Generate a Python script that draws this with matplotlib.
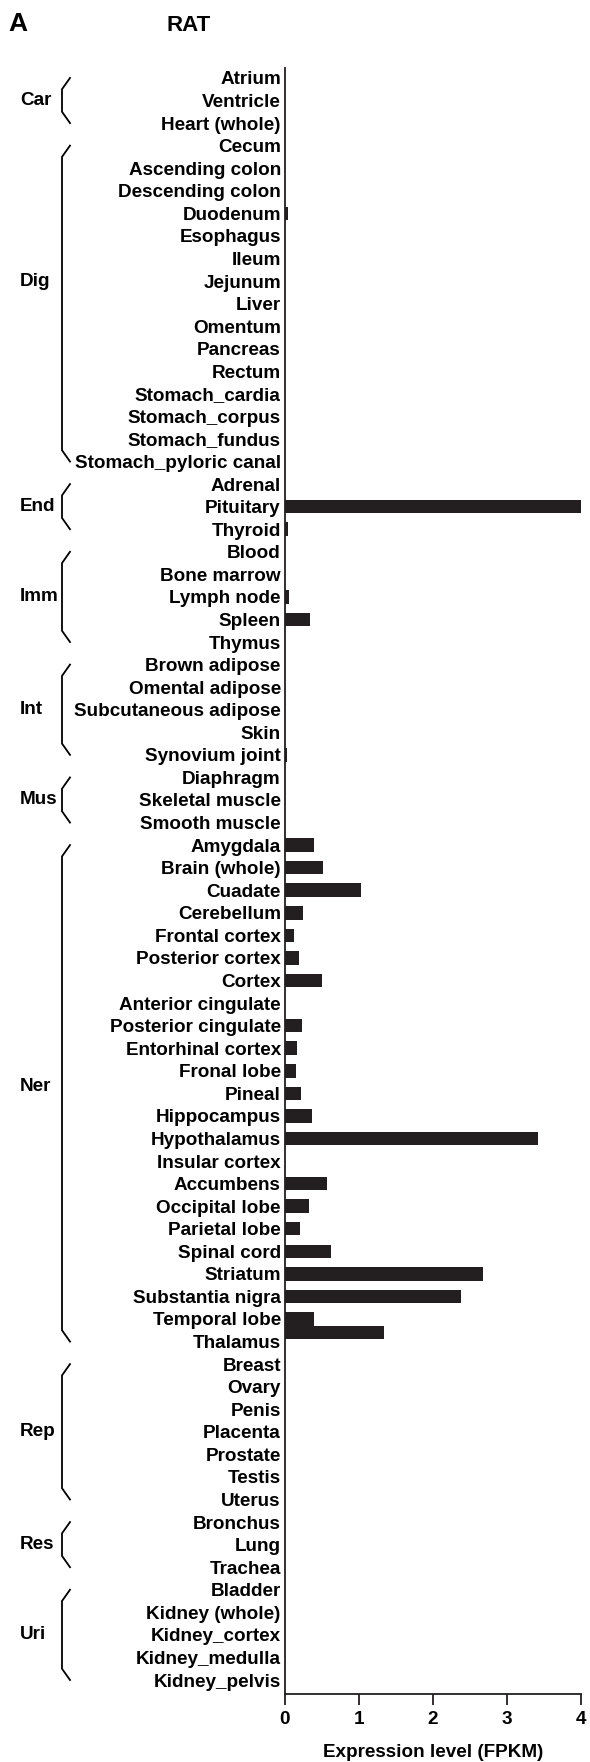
import matplotlib
matplotlib.use("Agg")
import matplotlib.pyplot as plt
from matplotlib.transforms import blended_transform_factory

plt.rcParams['font.family'] = ['Liberation Sans', 'DejaVu Sans']
plt.rcParams['font.weight'] = 'bold'

# Tissue groups, in display order (top to bottom)
groups = ["Car", "Dig", "End", "Imm", "Int", "Mus", "Ner", "Rep", "Res", "Uri"]
group_sizes = [3, 15, 3, 5, 5, 3, 23, 7, 3, 5]

tissues = [
    "Atrium", "Ventricle", "Heart (whole)",
    "Cecum", "Ascending colon", "Descending colon", "Duodenum", "Esophagus",
    "Ileum", "Jejunum", "Liver", "Omentum", "Pancreas", "Rectum",
    "Stomach_cardia", "Stomach_corpus", "Stomach_fundus", "Stomach_pyloric canal",
    "Adrenal", "Pituitary", "Thyroid",
    "Blood", "Bone marrow", "Lymph node", "Spleen", "Thymus",
    "Brown adipose", "Omental adipose", "Subcutaneous adipose", "Skin", "Synovium joint",
    "Diaphragm", "Skeletal muscle", "Smooth muscle",
    "Amygdala", "Brain (whole)", "Cuadate", "Cerebellum", "Frontal cortex",
    "Posterior cortex", "Cortex", "Anterior cingulate", "Posterior cingulate",
    "Entorhinal cortex", "Fronal lobe", "Pineal", "Hippocampus", "Hypothalamus",
    "Insular cortex", "Accumbens", "Occipital lobe", "Parietal lobe", "Spinal cord",
    "Striatum", "Substantia nigra", "Temporal lobe", "Thalamus",
    "Breast", "Ovary", "Penis", "Placenta", "Prostate", "Testis", "Uterus",
    "Bronchus", "Lung", "Trachea",
    "Bladder", "Kidney (whole)", "Kidney_cortex", "Kidney_medulla", "Kidney_pelvis",
]

# Expression level (FPKM) per tissue
fpkm = [
    0.0, 0.0, 0.0,
    0.0, 0.0, 0.0, 0.04, 0.0,
    0.0, 0.0, 0.0, 0.0, 0.0, 0.0,
    0.0, 0.0, 0.0, 0.0,
    0.0, 4.0, 0.04,
    0.0, 0.0, 0.05, 0.34, 0.0,
    0.0, 0.0, 0.0, 0.0, 0.03,
    0.0, 0.0, 0.0,
    0.39, 0.51, 1.03, 0.24, 0.12,
    0.19, 0.50, 0.0, 0.23,
    0.16, 0.15, 0.22, 0.37, 3.42,
    0.0, 0.57, 0.33, 0.20, 0.62,
    2.68, 2.38, 0.39, 1.34,
    0.0, 0.0, 0.0, 0.0, 0.0, 0.0, 0.0,
    0.0, 0.0, 0.0,
    0.0, 0.0, 0.0, 0.0, 0.0,
]

# Row (in tissue units) where each group name sits
group_label_rows = [1, 9, 19, 23, 28, 32, 44.7, 60, 65, 69]

x_ticks = [0, 1, 2, 3, 4]

W, H = 590, 1762
FS = 13.6
fig = plt.figure(figsize=(W / 100, H / 100), dpi=100)
ax = fig.add_axes([285 / W, 1 - 1694 / H, (581 - 285) / W, (1694 - 68) / H])

bar_color = "#231f20"
bar_height = 0.6
rows = list(range(len(tissues)))
# the thalamus bar sits tucked directly under the temporal-lobe bar
bar_shift = {"Thalamus": -0.41}
bar_rows = [r + bar_shift.get(t, 0.0) for r, t in zip(rows, tissues)]
ax.barh(bar_rows, fpkm, height=bar_height, color=bar_color, edgecolor="none",
        clip_on=False)

ax.set_ylim(len(tissues) - 1 + 0.62, -0.44)
ax.set_xlim(0, 4)
ax.set_yticks(rows)
ax.set_yticklabels(tissues, fontsize=FS, fontweight="bold")
ax.set_xticks(x_ticks)
ax.set_xticklabels([str(t) for t in x_ticks], fontsize=FS, fontweight="bold")
ax.tick_params(axis="y", length=0, pad=3)
ax.tick_params(axis="x", length=8, width=1.3, direction="out", pad=4.5, colors="#231f20")
ax.tick_params(axis="x", labelcolor="black")
for side in ("top", "right"):
    ax.spines[side].set_visible(False)
for side in ("left", "bottom"):
    ax.spines[side].set_linewidth(1.3)
    ax.spines[side].set_color("#231f20")
ax.set_xlabel("Expression level (FPKM)", fontsize=FS, fontweight="bold", labelpad=11)

# Group brackets and names, x in figure fraction, y in data rows
trans = blended_transform_factory(fig.transFigure, ax.transData)
x_bar = 62 / W
x_tip = 70 / W
start = 0
for name, size, lab_row in zip(groups, group_sizes, group_label_rows):
    first = start
    last = start + size - 1
    ax.plot([x_tip, x_bar, x_bar, x_tip],
            [first, first + 0.5, last - 0.5, last],
            transform=trans, color="black", lw=1.3, clip_on=False,
            solid_joinstyle="miter")
    ax.text(20 / W, lab_row, name, transform=trans, ha="left", va="center",
            fontsize=FS, fontweight="bold")
    start += size

fig.text(8 / W, 1 - 31 / H, "A", fontsize=19, fontweight="bold", ha="left", va="baseline")
fig.text(167 / W, 1 - 31 / H, "RAT", fontsize=16, fontweight="bold", ha="left", va="baseline")

fig.savefig("out.png", dpi=100)
